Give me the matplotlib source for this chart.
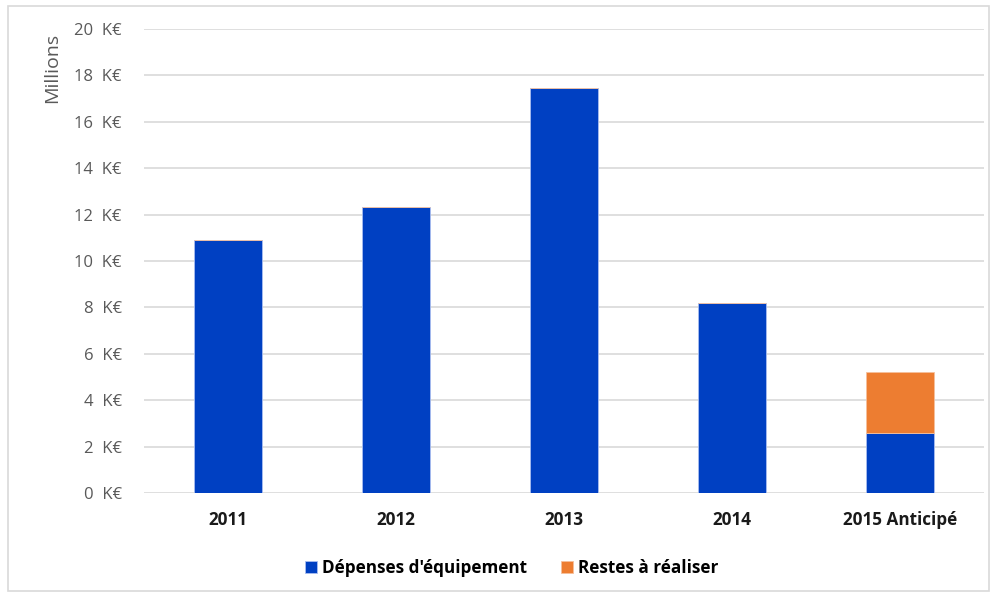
import numpy as np
import matplotlib.pyplot as plt
from matplotlib.patches import Rectangle

# Valeurs en millions d'euros
annees = ["2011", "2012", "2013", "2014", "2015 Anticipé"]
depenses = [10.9, 12.35, 17.45, 8.2, 2.6]
restes = [0, 0, 0, 0, 2.62]
yticks = [0, 2, 4, 6, 8, 10, 12, 14, 16, 18, 20]

blue = "#0040C2"
orange = "#ED7D31"
grey = "#595959"

plt.rcParams["font.family"] = ["Open Sans", "DejaVu Sans"]

fig = plt.figure(figsize=(9.96, 5.94), dpi=100)
ax = fig.add_axes([0.1446, 0.170, 0.8434, 0.781])

x = np.arange(len(annees))
ax.bar(x, depenses, width=0.4, color=blue, edgecolor="#A9BEF0", linewidth=0.6,
       label="Dépenses d'équipement", zorder=3)
ax.bar(x, restes, width=0.4, bottom=depenses, color=orange, edgecolor="#F5C09C",
       linewidth=0.6, label="Restes à réaliser", zorder=3)

ax.set_xlim(-0.5, len(annees) - 0.5)
ax.set_ylim(0, 20)
ax.set_yticks(yticks)
ax.set_yticklabels([f"{v}  K€" for v in yticks], color=grey, fontsize=12)
ax.set_xticks(x)
ax.set_xticklabels(annees, fontweight="bold", fontsize=12.3, color="#1a1a1a")
ax.tick_params(axis="both", length=0)
ax.tick_params(axis="y", pad=16)
ax.tick_params(axis="x", pad=13)
ax.grid(axis="y", color="#D9D9D9", linewidth=1.2, zorder=0)
for s in ax.spines.values():
    s.set_visible(False)

fig.text(0.052, 0.945, "Millions", rotation=90, ha="center", va="top",
         color=grey, fontsize=14)

fig.legend(loc="upper center", bbox_to_anchor=(0.514, 0.085), ncol=2,
           frameon=False, handlelength=0.7, handleheight=0.7, handletextpad=0.3,
           columnspacing=2.0, prop={"weight": "bold", "size": 12.3})

fig.patches.append(Rectangle((0.008, 0.005), 0.985, 0.985, transform=fig.transFigure,
                             fill=False, edgecolor="#D9D9D9", linewidth=1.2))

fig.savefig("out.png", dpi=100)
